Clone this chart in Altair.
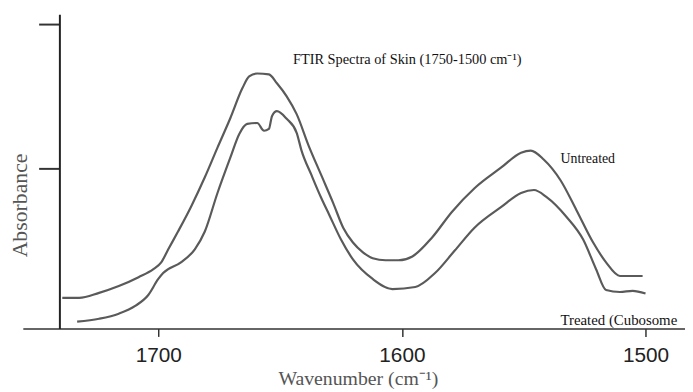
import altair as alt
import pandas as pd

# Wavenumber (cm-1) and absorbance (arbitrary units)
untreated_wn = [1739.4, 1732.5, 1724.3, 1716.2, 1708.1, 1702.0, 1698.8, 1695.9, 1691.9, 1686.6,
                1680.9, 1675.7, 1670.4, 1665.5, 1662.7, 1659.4, 1654.6, 1651.3, 1647.3, 1643.2,
                1638.3, 1633.1, 1628.2, 1624.1, 1620.1, 1616.0, 1612.0, 1606.7, 1601.4, 1595.7,
                1587.6, 1579.5, 1570.2, 1559.2, 1551.1, 1547.1, 1541.8, 1534.9, 1528.4, 1521.5,
                1516.2, 1510.5, 1501.2]
untreated_abs = [0.103, 0.103, 0.120, 0.143, 0.173, 0.200, 0.223, 0.267, 0.327, 0.410,
                 0.510, 0.610, 0.710, 0.810, 0.850, 0.860, 0.857, 0.827, 0.783, 0.723,
                 0.617, 0.517, 0.423, 0.340, 0.290, 0.257, 0.237, 0.230, 0.230, 0.243,
                 0.307, 0.393, 0.473, 0.543, 0.593, 0.600, 0.570, 0.500, 0.400, 0.290,
                 0.223, 0.177, 0.177]

treated_wn = [1733.3, 1724.3, 1716.2, 1709.3, 1704.1, 1700.0, 1698.0, 1690.7, 1685.0, 1680.9,
              1675.7, 1670.4, 1666.7, 1663.5, 1659.4, 1656.6, 1654.6, 1653.3, 1651.3, 1647.3,
              1643.2, 1641.2, 1637.1, 1633.1, 1629.8, 1625.0, 1620.1, 1612.0, 1603.9, 1594.5,
              1586.4, 1578.3, 1570.2, 1559.2, 1551.1, 1545.8, 1540.6, 1532.5, 1525.6, 1520.3,
              1516.2, 1510.5, 1505.3, 1500.0]
treated_abs = [0.023, 0.033, 0.050, 0.077, 0.113, 0.167, 0.187, 0.223, 0.267, 0.327,
               0.457, 0.577, 0.657, 0.690, 0.693, 0.667, 0.673, 0.717, 0.733, 0.707,
               0.660, 0.600, 0.517, 0.440, 0.383, 0.300, 0.233, 0.167, 0.133, 0.140,
               0.187, 0.263, 0.340, 0.410, 0.457, 0.467, 0.443, 0.377, 0.300, 0.200,
               0.130, 0.123, 0.127, 0.118]

x_ticks = [1700, 1600, 1500]
y_ticks = [0.54, 1.027]

# annotation anchors (data coordinates)
ann_text = ["FTIR Spectra of Skin (1750-1500 cm\u207b\u00b9)", "Untreated", "Treated (Cubosome"]
ann_wn = [1597.8, 1534.9, 1534.9]
ann_abs = [0.907, 0.573, 0.030]

df = pd.concat([
    pd.DataFrame({"wn": untreated_wn, "abs": untreated_abs, "series": "Untreated"}),
    pd.DataFrame({"wn": treated_wn, "abs": treated_abs, "series": "Treated"}),
])
ann = pd.DataFrame({"wn": ann_wn, "abs": ann_abs, "text": ann_text})

xscale = alt.Scale(domain=[1483.8, 1755.6], reverse=True, nice=False, zero=False)
yscale = alt.Scale(domain=[0, 1.06], nice=False, zero=False)

lines = alt.Chart(df).mark_line(color="#5a5a5a", strokeWidth=2.2, interpolate="monotone").encode(
    x=alt.X("wn:Q", scale=xscale, axis=alt.Axis(
        values=x_ticks, format="d", grid=False,
        title="Wavenumber (cm\u207b\u00b9)", titleFont="Liberation Serif", titleFontSize=20,
        titleFontWeight="normal", titleColor="#555555", titleX=339, titleY=57,
        titleAlign="center", titleBaseline="alphabetic",
        labelFont="Liberation Sans", labelFontSize=21, labelColor="#222222", labelPadding=8,
        tickSize=8, tickWidth=1.5, tickColor="#333333",
        domainColor="#333333", domainWidth=1.5)),
    y=alt.Y("abs:Q", scale=yscale, axis=alt.Axis(
        values=y_ticks, labels=False, grid=False, offset=-37,
        title="Absorbance", titleFont="Liberation Serif", titleFontSize=22,
        titleFontWeight="normal", titleColor="#555555", titleX=-33, titleY=193,
        titleAlign="center", titleBaseline="alphabetic", titleAngle=270,
        tickSize=21, tickWidth=2, tickColor="#333333",
        domainColor="#222222", domainWidth=2)),
    detail="series:N",
)

title_txt = alt.Chart(ann.iloc[[0]]).mark_text(
    font="Liberation Serif", fontSize=14.5, color="#111111", align="center", baseline="middle"
).encode(x=alt.X("wn:Q", scale=xscale), y=alt.Y("abs:Q", scale=yscale), text="text:N")

untreated_txt = alt.Chart(ann.iloc[[1]]).mark_text(
    font="Liberation Serif", fontSize=14, color="#111111", align="left", baseline="middle"
).encode(x=alt.X("wn:Q", scale=xscale), y=alt.Y("abs:Q", scale=yscale), text="text:N")

treated_txt = alt.Chart(ann.iloc[[2]]).mark_text(
    font="Liberation Serif", fontSize=15, color="#111111", align="left", baseline="middle"
).encode(x=alt.X("wn:Q", scale=xscale), y=alt.Y("abs:Q", scale=yscale), text="text:N")

chart = alt.layer(lines, title_txt, untreated_txt, treated_txt).properties(
    width=670, height=318,
    autosize=alt.AutoSizeParams(type="none"),
    padding={"left": 15, "top": 4, "right": 0, "bottom": 62},
    background="white",
).configure_view(stroke=None)

chart.save("out.html", embed_options={"renderer": "svg", "actions": False})
